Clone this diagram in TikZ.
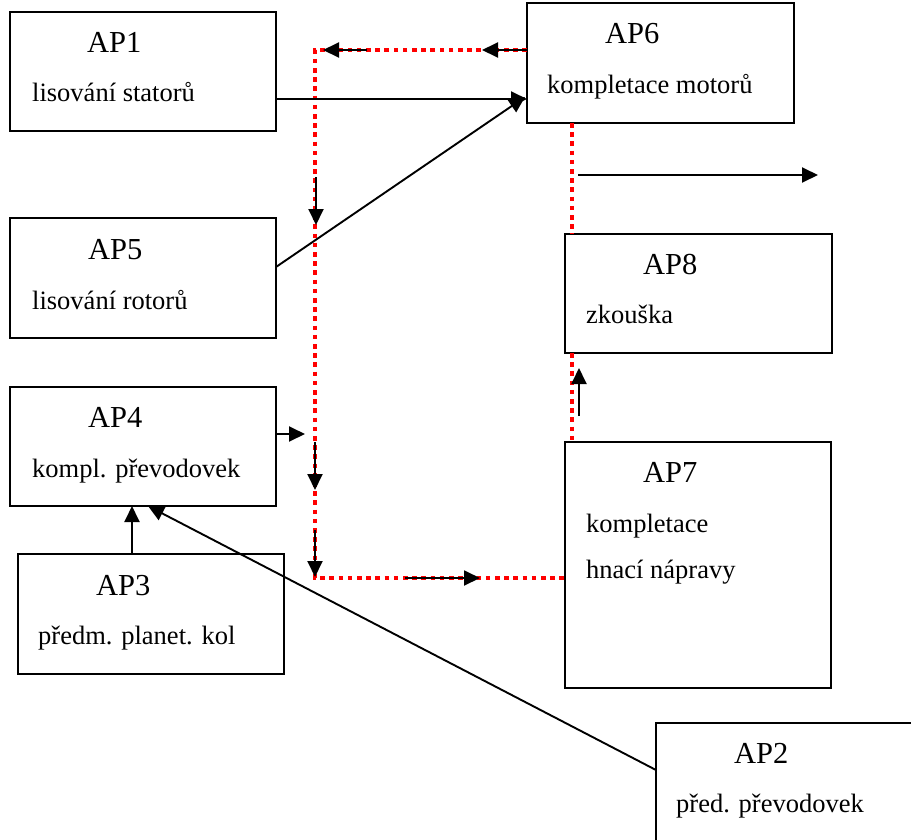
\documentclass[tikz,border=0pt]{standalone}
\usepackage{fontspec}
\setmainfont{Liberation Serif}
\usetikzlibrary{arrows.meta}
\newcommand{\aplabfont}{\fontsize{30.5}{34}\selectfont}
\newcommand{\apdescfont}{\fontsize{26.5}{30}\selectfont}
\tikzset{
  apbox/.style={draw, line width=2pt, inner sep=0pt, outer sep=0pt, anchor=north west, rectangle},
  aplab/.style={anchor=base west, inner sep=0pt, font=\aplabfont},
  apdesc/.style={anchor=base west, inner sep=0pt, font=\apdescfont},
  reddot/.style={draw=red, line width=4.6pt, dash pattern=on 4.6pt off 4.6pt},
  arr/.style={draw=black, line width=1.9pt, -{Triangle[length=16pt,width=15pt]}}
}
\begin{document}
\begin{tikzpicture}[x=1pt,y=-1pt]
\useasboundingbox (0,0) rectangle (911,839);
% boxes
\node[apbox, minimum width=266pt, minimum height=119pt] (ap1) at (10,12) {};
\node[apbox, minimum width=267pt, minimum height=120pt] (ap6) at (527,3) {};
\node[apbox, minimum width=266pt, minimum height=120pt] (ap5) at (10,218) {};
\node[apbox, minimum width=266pt, minimum height=119pt] (ap4) at (10,387) {};
\node[apbox, minimum width=266pt, minimum height=120pt] (ap3) at (18,554) {};
\node[apbox, minimum width=267pt, minimum height=119pt] (ap8) at (565,234) {};
\node[apbox, minimum width=266pt, minimum height=246pt] (ap7) at (565,442) {};
\node[apbox, minimum width=280pt, minimum height=140pt] (ap2) at (656,723) {};
% labels
\node[aplab] (l1) at (87,52) {AP1};
\node[apdesc] (d1) at (32,101) {lisování statorů};
\node[aplab] (l6) at (605,43) {AP6};
\node[apdesc] (d6) at (547,93) {kompletace motorů};
\node[aplab] (l5) at (88,259) {AP5};
\node[apdesc] (d5) at (32,309) {lisování rotorů};
\node[aplab] (l4) at (88,427) {AP4};
\node[apdesc] (d4) at (32,477) {kompl. převodovek};
\node[aplab] (l3) at (96,595) {AP3};
\node[apdesc] (d3) at (38,644) {předm. planet. kol};
\node[aplab] (l8) at (643,274) {AP8};
\node[apdesc] (d8) at (586,323) {zkouška};
\node[aplab] (l7) at (643,482) {AP7};
\node[apdesc] (d7a) at (586,532) {kompletace};
\node[apdesc] (d7b) at (586,578) {hnací nápravy};
\node[aplab] (l2) at (734,763) {AP2};
\node[apdesc] (d2) at (676,812) {před. převodovek};
% helper coordinates
\coordinate (rc1) at (315,50);
\coordinate (rc2) at (315,578);
\coordinate (rx) at (572,0);
\coordinate (t5) at (525,97);
\coordinate (a1s) at (367,50);
\coordinate (a1e) at (323,50);
\coordinate (a2e) at (482,50);
\coordinate (v1s) at (316,177);
\coordinate (v1e) at (316,225);
\coordinate (a4e) at (305,434);
\coordinate (v2s) at (315,442);
\coordinate (v2e) at (315,490);
\coordinate (v3s) at (315,530);
\coordinate (v3e) at (315,577);
\coordinate (h1s) at (405,578);
\coordinate (h1e) at (480,578);
\coordinate (o1s) at (578,175);
\coordinate (o1e) at (818,175);
\coordinate (u1s) at (579,416);
\coordinate (u1e) at (579,368);
% red dotted flow
\draw[reddot] (ap6.west |- rc1) -- (rc1) -- (rc2) -- (ap7.west |- rc2);
\draw[reddot] (ap6.south -| rx) -- (ap8.north -| rx);
\draw[reddot] (ap8.south -| rx) -- (ap7.north -| rx);
% black arrows
\draw[arr] (ap1.east |- 0,99) -- (ap6.west |- 0,99);
\draw[arr] (ap5.east |- 0,267) -- (t5);
\draw[arr] (a1s) -- (a1e);
\draw[arr] (ap6.west |- a2e) -- (a2e);
\draw[arr] (v1s) -- (v1e);
\draw[arr] (ap4.east |- a4e) -- (a4e);
\draw[arr] (v2s) -- (v2e);
\draw[arr] (v3s) -- (v3e);
\draw[arr] (h1s) -- (h1e);
\draw[arr] (o1s) -- (o1e);
\draw[arr] (u1s) -- (u1e);
\draw[arr] (ap3.north -| 132,0) -- (ap4.south -| 132,0);
\draw[arr] (ap2.west |- 0,770) -- (ap4.south -| 148,0);
\end{tikzpicture}
\end{document}
